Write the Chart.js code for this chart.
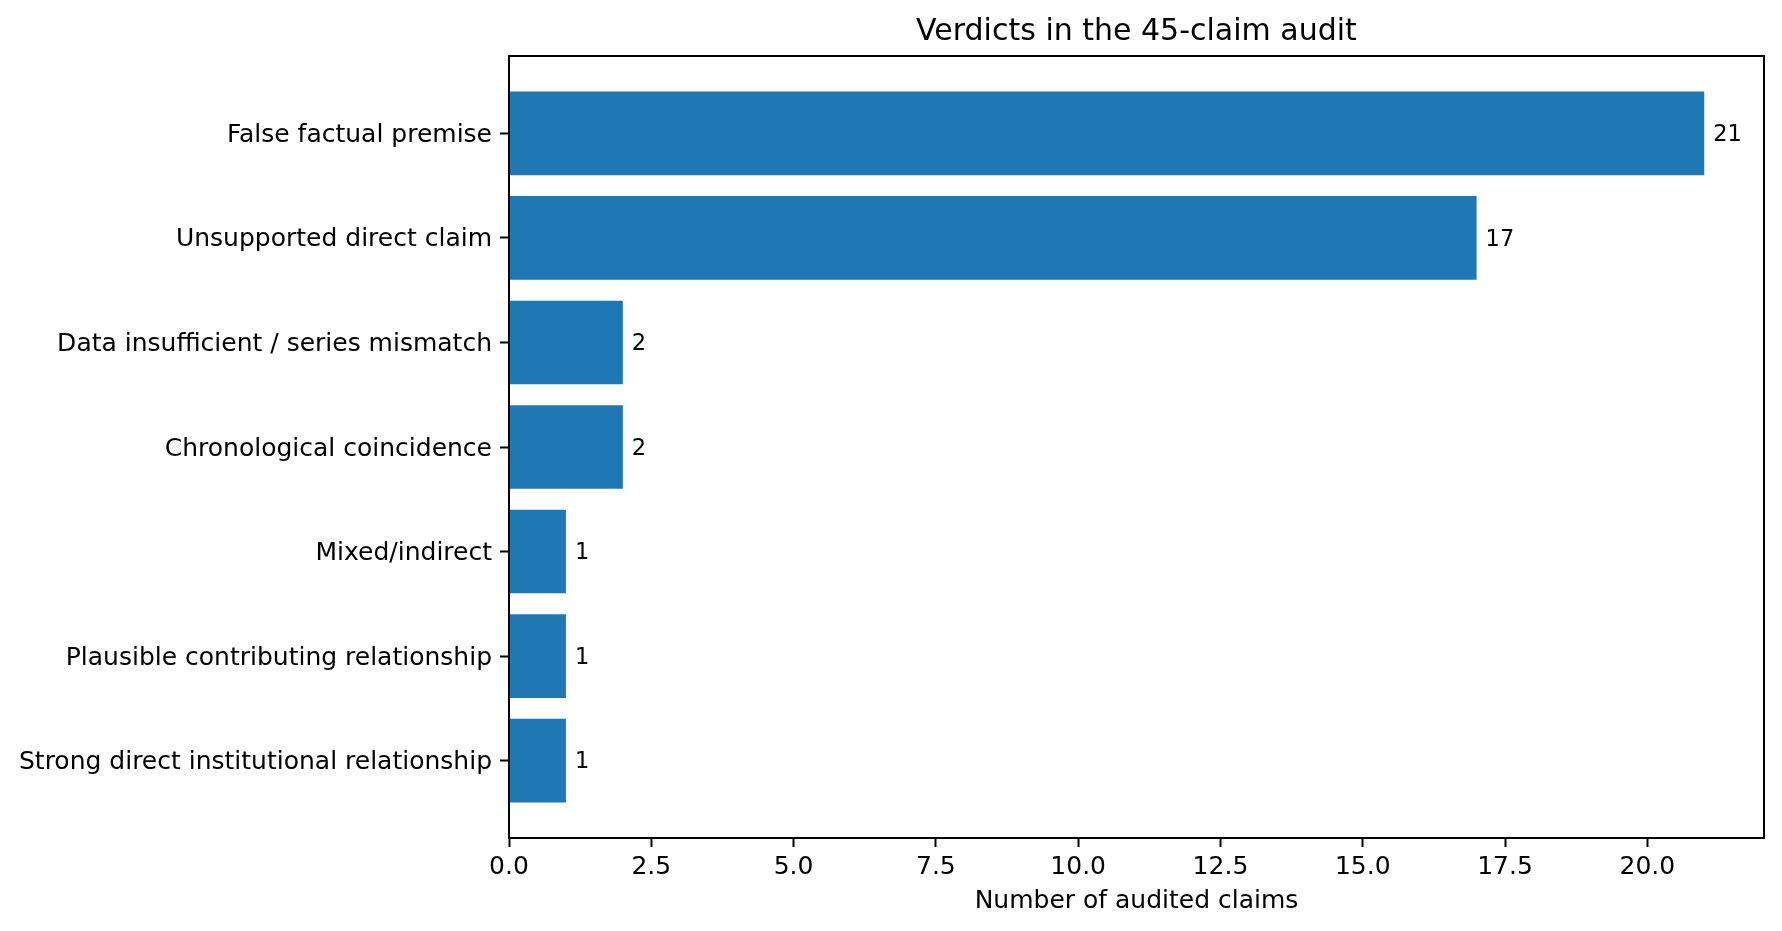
<!DOCTYPE html>
<html>
<head>
<meta charset="utf-8">
<script src="https://cdn.jsdelivr.net/npm/chart.js@4"></script>
<style>
  html, body { margin: 0; padding: 0; background: #fff; }
  #wrap { width: 1782px; height: 931px; position: relative; }
</style>
</head>
<body>
<div id="wrap"><canvas id="c"></canvas></div>
<script>
const chartTitle = 'Verdicts in the 45-claim audit';
const xAxisLabel = 'Number of audited claims';
const categories = [
  'False factual premise',
  'Unsupported direct claim',
  'Data insufficient / series mismatch',
  'Chronological coincidence',
  'Mixed/indirect',
  'Plausible contributing relationship',
  'Strong direct institutional relationship'
];
const counts = [21, 17, 2, 2, 1, 1, 1];
const xTickValues = [0, 2.5, 5, 7.5, 10, 12.5, 15, 17.5, 20];
const xMax = 22.05;
const yMin = -0.74;
const yMax = 6.74;

const FONT = 'DejaVu Sans';
Chart.defaults.color = '#000';
Chart.defaults.font.family = FONT;

const frame = {
  id: 'frame',
  afterDraw(chart) {
    const {ctx, chartArea: a} = chart;
    ctx.save();
    ctx.strokeStyle = '#000';
    ctx.lineWidth = 2;
    ctx.strokeRect(a.left, a.top, a.right - a.left, a.bottom - a.top);
    ctx.restore();
  }
};

const barLabels = {
  id: 'barLabels',
  afterDatasetsDraw(chart) {
    const {ctx} = chart;
    const meta = chart.getDatasetMeta(0);
    ctx.save();
    ctx.fillStyle = '#000';
    ctx.font = '22.5px "' + FONT + '"';
    ctx.textAlign = 'left';
    ctx.textBaseline = 'middle';
    meta.data.forEach((bar, i) => {
      ctx.fillText(String(counts[i]), bar.x + 9, bar.y + 2);
    });
    ctx.restore();
  }
};

new Chart(document.getElementById('c'), {
  type: 'bar',
  data: {
    datasets: [{
      data: counts.map((v, i) => ({x: v, y: i})),
      backgroundColor: '#1f77b4',
      borderWidth: 0,
      categoryPercentage: 1.0,
      barPercentage: 0.8
    }]
  },
  options: {
    indexAxis: 'y',
    responsive: true,
    maintainAspectRatio: false,
    animation: false,
    devicePixelRatio: 1,
    layout: { padding: { left: 0, right: 18, top: 0, bottom: 0 } },
    plugins: {
      legend: { display: false },
      tooltip: { enabled: false },
      title: {
        display: true,
        text: chartTitle,
        fullSize: false,
        color: '#000',
        font: { family: FONT, size: 30, weight: 'normal', lineHeight: 1.2 },
        padding: { top: 14, bottom: 6 }
      }
    },
    scales: {
      x: {
        type: 'linear',
        position: 'bottom',
        min: 0,
        max: xMax,
        offset: false,
        afterBuildTicks(scale) { scale.ticks = xTickValues.map(v => ({value: v})); },
        afterFit(scale) { scale.height = 93; },
        ticks: {
          font: { family: FONT, size: 25 },
          color: '#000',
          padding: 5,
          maxRotation: 0,
          autoSkip: false,
          callback: v => Number(v).toFixed(1)
        },
        grid: { display: true, offset: false, drawOnChartArea: false, drawTicks: true, tickLength: 9, tickWidth: 2, tickColor: '#000' },
        border: { display: true, color: '#000', width: 2 },
        title: {
          display: true,
          text: xAxisLabel,
          color: '#000',
          font: { family: FONT, size: 25, lineHeight: 1.2 },
          padding: { top: 4, bottom: 15 }
        }
      },
      y: {
        type: 'linear',
        position: 'left',
        reverse: true,
        min: yMin,
        max: yMax,
        offset: false,
        afterBuildTicks(scale) { scale.ticks = categories.map((c, i) => ({value: i})); },
        afterFit(scale) { scale.width = 509; },
        ticks: {
          font: { family: FONT, size: 25 },
          color: '#000',
          padding: 8,
          labelOffset: 2,
          autoSkip: false,
          callback: v => categories[v]
        },
        grid: { display: true, offset: false, drawOnChartArea: false, drawTicks: true, tickLength: 9, tickWidth: 2, tickColor: '#000' },
        border: { display: true, color: '#000', width: 2 }
      }
    }
  },
  plugins: [frame, barLabels]
});
</script>
</body>
</html>
